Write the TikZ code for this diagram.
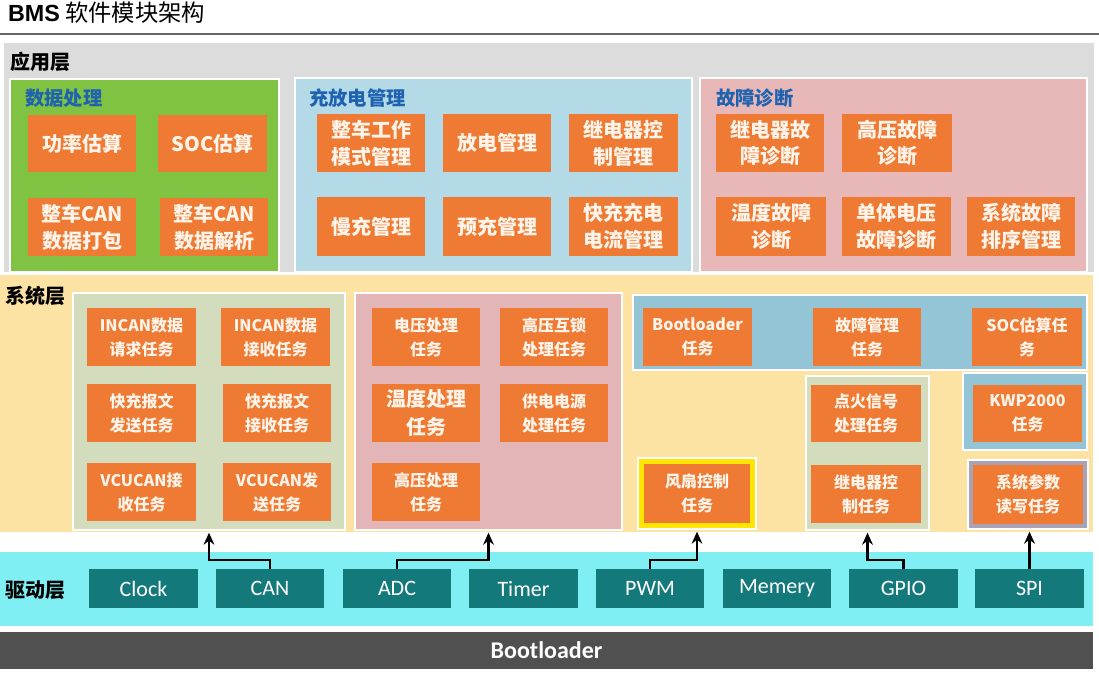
\documentclass[tikz,border=0pt]{standalone}
\usepackage{fontspec}
\setmainfont{Noto Sans CJK SC}
\newfontfamily\latf{Carlito}
\newfontfamily\arialf{Liberation Sans}
\usetikzlibrary{arrows.meta}
\definecolor{appgray}{HTML}{DCDCDC}
\definecolor{dgreen}{HTML}{80C342}
\definecolor{lblue}{HTML}{B4DAE8}
\definecolor{lpink}{HTML}{E8B8B8}
\definecolor{borange}{HTML}{EE7A33}
\definecolor{syellow}{HTML}{FCE3A4}
\definecolor{sage}{HTML}{D3DDBE}
\definecolor{spink}{HTML}{E3B5B6}
\definecolor{sblue}{HTML}{94C5D6}
\definecolor{dcyan}{HTML}{7FEFF3}
\definecolor{dteal}{HTML}{14797A}
\definecolor{bgray}{HTML}{505050}
\definecolor{lav}{HTML}{A9A2B4}
\definecolor{fanyel}{HTML}{FFE500}
\definecolor{ttlblue}{HTML}{1F63B0}
\definecolor{boxtxt}{HTML}{FFF4EA}
\newcommand\bx[7][]{\node[#1, minimum width={(#5-#3)*0.75pt}, minimum height={(#6-#4)*0.75pt}] (#2) at ({(#3+#5)/2},{(#4+#6)/2}) {#7};}
\begin{document}
\begin{tikzpicture}[x=0.75pt,y=-0.75pt,
  every node/.style={inner sep=0pt, outer sep=0pt, rectangle, align=center},
  cont/.style={draw=white, line width=1.2pt},
  abox/.style={fill=borange, text=boxtxt, font=\fontsize{15}{20}\selectfont\bfseries},
  sbox/.style={fill=borange, text=boxtxt, font=\fontsize{12}{18}\selectfont\bfseries},
  dbox/.style={fill=dteal, text=white, font=\latf\fontsize{16.5}{18}\selectfont},
  lbl/.style={font=\fontsize{15}{18}\selectfont\bfseries, text=black},
  ctitle/.style={font=\fontsize{14.5}{18}\selectfont\bfseries, text=ttlblue},
  arr/.style={line width=1.9pt, -{Stealth[length=9pt,width=8pt]}}]
\useasboundingbox (0,0) rectangle (1099,672);
\fill[white] (0,0) rectangle (1099,672);
% title
\node[anchor=west, font=\fontsize{17.5}{20}\selectfont] (title) at (8,13) {{\arialf\bfseries BMS} 软件模块架构};
\draw[gray!80!black, line width=0.8pt] (0,34) -- (1099,34);
% ===== application layer
\bx[cont, fill=appgray]{app}{3}{42}{1095}{273}{}
\node[lbl, anchor=west] (applbl) at (10,62) {应用层};
\bx[cont, fill=dgreen]{dp}{10}{79}{279}{272}{}
\node[ctitle, anchor=west] (dpt) at (25,98) {数据处理};
\bx[abox]{a1}{28}{115}{136}{172}{功率估算}
\bx[abox]{a2}{158}{115}{267}{172}{SOC估算}
\bx[abox]{a3}{28}{198}{136}{256}{整车CAN\\数据打包}
\bx[abox]{a4}{160}{198}{268}{256}{整车CAN\\数据解析}
\bx[cont, fill=lblue]{cm}{295}{78}{692}{272}{}
\node[ctitle, anchor=west] (cmt) at (309,98) {充放电管理};
\bx[abox]{b1}{317}{114}{425}{172}{整车工作\\模式管理}
\bx[abox]{b2}{443}{114}{551}{172}{放电管理}
\bx[abox]{b3}{569}{114}{678}{172}{继电器控\\制管理}
\bx[abox]{b4}{317}{197}{425}{256}{慢充管理}
\bx[abox]{b5}{443}{197}{551}{256}{预充管理}
\bx[abox]{b6}{569}{197}{678}{256}{快充充电\\电流管理}
\bx[cont, fill=lpink]{fd}{700}{78}{1087}{272}{}
\node[ctitle, anchor=west] (fdt) at (716,98) {故障诊断};
\bx[abox]{c1}{716}{114}{824}{172}{继电器故\\障诊断}
\bx[abox]{c2}{842}{114}{952}{172}{高压故障\\诊断}
\bx[abox]{c3}{716}{197}{826}{256}{温度故障\\诊断}
\bx[abox]{c4}{842}{197}{951}{256}{单体电压\\故障诊断}
\bx[abox]{c5}{967}{197}{1075}{256}{系统故障\\排序管理}
% ===== system layer
\bx[fill=syellow]{sys}{0}{275}{1093}{532}{}
\node[lbl, anchor=west] (syslbl) at (5,296) {系统层};
\bx[cont, fill=sage]{sg}{73}{293}{345}{530}{}
\bx[sbox]{s1}{87}{308}{196}{366}{INCAN数据\\请求任务}
\bx[sbox]{s2}{221}{308}{330}{366}{INCAN数据\\接收任务}
\bx[sbox]{s3}{87}{384}{196}{442}{快充报文\\发送任务}
\bx[sbox]{s4}{223}{384}{331}{442}{快充报文\\接收任务}
\bx[sbox]{s5}{87}{463}{196}{521}{VCUCAN接\\收任务}
\bx[sbox]{s6}{223}{463}{331}{521}{VCUCAN发\\送任务}
\bx[cont, fill=spink]{sp}{355}{293}{622}{530}{}
\bx[sbox]{p1}{372}{308}{480}{366}{电压处理\\任务}
\bx[sbox]{p2}{500}{308}{608}{366}{高压互锁\\处理任务}
\bx[sbox, font=\fontsize{15}{21}\selectfont\bfseries]{p3}{372}{384}{480}{442}{温度处理\\任务}
\bx[sbox]{p4}{500}{384}{608}{442}{供电电源\\处理任务}
\bx[sbox]{p5}{372}{463}{480}{521}{高压处理\\任务}
\bx[cont, fill=sblue]{sb}{633}{295}{1087}{370}{}
\bx[sbox]{q1}{643}{308}{752}{366}{Bootloader\\任务}
\bx[sbox]{q2}{813}{308}{921}{366}{故障管理\\任务}
\bx[sbox]{q3}{972}{308}{1082}{366}{SOC估算任\\务}
\bx[cont, fill=sage]{sg2}{806}{376}{929}{530}{}
\bx[sbox]{q4}{811}{385}{921}{442}{点火信号\\处理任务}
\bx[sbox]{q5}{811}{465}{921}{523}{继电器控\\制任务}
\bx[cont, fill=sblue]{sb2}{963}{373}{1087}{450}{}
\bx[sbox]{q6}{973}{385}{1082}{442}{KWP2000\\任务}
\bx[cont, fill=fanyel]{fan}{638}{458}{756}{529}{}
\bx[sbox]{q7}{644}{464}{750}{523}{风扇控制\\任务}
\bx[cont, fill=lav]{lv}{968}{460}{1088}{529}{}
\bx[sbox]{q8}{973}{465}{1083}{524}{系统参数\\读写任务}
% ===== driver layer
\bx[fill=dcyan]{drv}{0}{552}{1093}{626}{}
\node[lbl, anchor=west] (drvlbl) at (5,590) {驱动层};
\bx[dbox]{d1}{89}{569}{198}{608}{Clock}
\bx[dbox]{d2}{216}{569}{324}{608}{CAN}
\bx[dbox]{d3}{343}{569}{451}{608}{ADC}
\bx[dbox]{d4}{469}{569}{578}{608}{Timer}
\bx[dbox]{d5}{596}{569}{704}{608}{PWM}
\bx[dbox]{d6}{723}{569}{831}{608}{Memery}
\bx[dbox]{d7}{849}{569}{958}{608}{GPIO}
\bx[dbox]{d8}{975}{569}{1084}{608}{SPI}
% bootloader bar
\bx[fill=bgray, text=white, font=\latf\bfseries\fontsize{18}{20}\selectfont]{boot}{0}{632}{1093}{669}{Bootloader}
% ===== arrows
\draw[arr] (d2.north) -- ++(0,-9) -| ([yshift=-2pt]sg.south);
\draw[arr] (d3.north) -- ++(0,-9) -| ([yshift=-2pt]sp.south);
\draw[arr] (d5.north) -- ++(0,-9) -| ([yshift=-2pt]fan.south);
\draw[arr] (d7.north) -- ++(0,-9) -| ([yshift=-2pt]sg2.south);
\draw[arr] (d8.north) -- ([yshift=-2pt]d8.north |- lv.south);
\end{tikzpicture}
\end{document}
